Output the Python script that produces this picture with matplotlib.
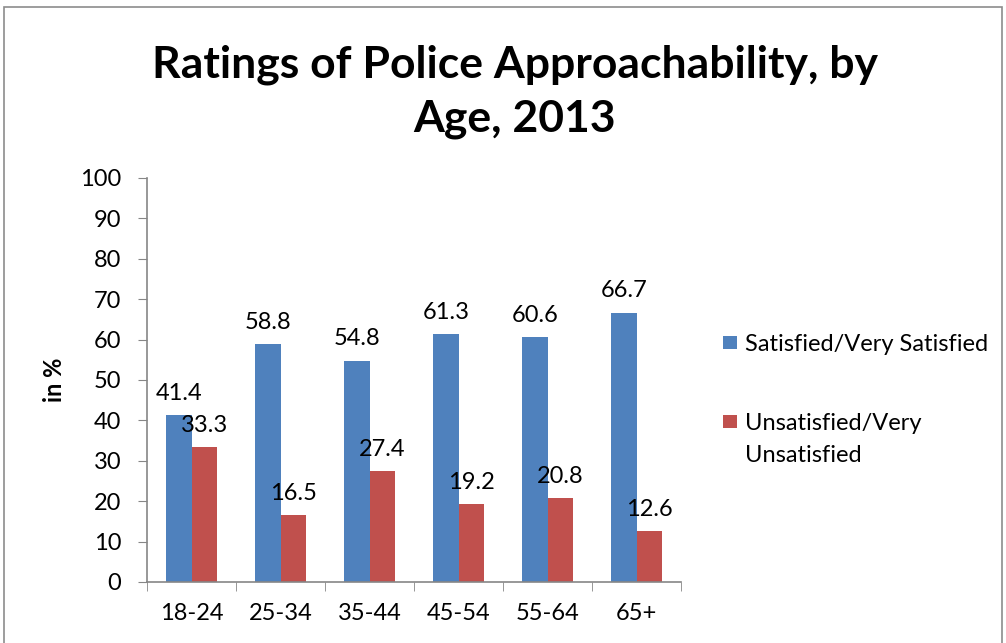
import matplotlib
matplotlib.use("Agg")
import matplotlib.pyplot as plt
import numpy as np
from matplotlib.patches import Rectangle

categories = ["18-24", "25-34", "35-44", "45-54", "55-64", "65+"]
satisfied = [41.4, 58.8, 54.8, 61.3, 60.6, 66.7]
unsatisfied = [33.3, 16.5, 27.4, 19.2, 20.8, 12.6]
series_names = ["Satisfied/Very Satisfied", "Unsatisfied/Very\nUnsatisfied"]
yticks = list(range(0, 101, 10))

BLUE = "#4F81BD"
RED = "#C0504D"
AXIS = "#868686"
FONT = "Lato"
FS = 17

plt.rcParams["font.family"] = [FONT, "DejaVu Sans"]

fig = plt.figure(figsize=(10.06, 6.43), dpi=100)
fig.patch.set_facecolor("white")

# chart border
fig.add_artist(Rectangle((4 / 1006, -0.05), 998 / 1006, 1 - 7 / 643 + 0.05,
                         transform=fig.transFigure, fill=False,
                         edgecolor="#8c8c8c", linewidth=1.2))

ax = fig.add_axes([147 / 1006, 1 - 582 / 643, 534 / 1006, 404 / 643])

x = np.arange(len(categories))
w = 0.285
colors = [BLUE, RED]
b1 = ax.bar(x - w / 2, satisfied, w, color=BLUE)
b2 = ax.bar(x + w / 2, unsatisfied, w, color=RED)

for bars, vals in ((b1, satisfied), (b2, unsatisfied)):
    for r, v in zip(bars, vals):
        ax.annotate(f"{v:.1f}", (r.get_x() + r.get_width() / 2, v),
                    xytext=(0, 8), textcoords="offset points",
                    ha="center", va="bottom", fontsize=FS)

ax.set_xlim(-0.5, len(categories) - 0.5)
ax.set_ylim(0, 100)
ax.set_yticks(yticks)
ax.set_yticklabels([str(t) for t in yticks], fontsize=FS)
ax.set_xticks(x)
ax.set_xticklabels(categories, fontsize=FS)
ax.set_xticks(np.arange(len(categories) + 1) - 0.5, minor=True)
ax.tick_params(axis="x", which="major", length=0, pad=15)
ax.tick_params(axis="x", which="minor", length=6.5, color=AXIS, direction="out")
ax.tick_params(axis="y", length=6.5, color=AXIS, direction="out", pad=12)

for s in ("top", "right"):
    ax.spines[s].set_visible(False)
for s in ("left", "bottom"):
    ax.spines[s].set_color(AXIS)
    ax.spines[s].set_linewidth(1.2)

ax.set_ylabel("in %", fontsize=FS, fontweight="bold", labelpad=10)

fig.text(515 / 1006, 1 - 92 / 643,
         "Ratings of Police Approachability, by\nAge, 2013",
         ha="center", va="center", fontsize=32, fontweight="bold",
         linespacing=1.4)

# legend: square swatch aligned with the first line of each entry
legend_rows = [342, 421]
for name, col, yc in zip(series_names, colors, legend_rows):
    fig.add_artist(Rectangle((723 / 1006, 1 - (yc + 7) / 643), 14 / 1006, 13 / 643,
                             transform=fig.transFigure, facecolor=col,
                             edgecolor="none"))
    fig.text(745 / 1006, 1 - (yc - 8) / 643, name, ha="left", va="top",
             fontsize=FS, linespacing=1.65)

fig.savefig("out.png", dpi=100)
